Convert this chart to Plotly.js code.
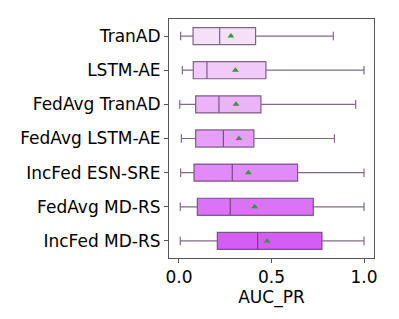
<!DOCTYPE html>
<html>
<head>
<meta charset="utf-8">
<script src="https://cdn.plot.ly/plotly-3.0.1.min.js"></script>
<style>html,body{margin:0;padding:0;background:#fff;}#chart{width:399px;height:319px;}</style>
</head>
<body>
<div id="chart"></div>
<script>
var categories = ["TranAD", "LSTM-AE", "FedAvg TranAD", "FedAvg LSTM-AE", "IncFed ESN-SRE", "FedAvg MD-RS", "IncFed MD-RS"];
var lowerWhisker = [0.009, 0.018, 0.004, 0.013, 0.009, 0.007, 0.007];
var q1Values     = [0.076, 0.077, 0.090, 0.090, 0.081, 0.099, 0.207];
var medianValues = [0.220, 0.151, 0.216, 0.240, 0.288, 0.277, 0.425];
var q3Values     = [0.414, 0.470, 0.443, 0.405, 0.641, 0.726, 0.773];
var upperWhisker = [0.834, 1.000, 0.955, 0.840, 1.000, 1.000, 1.000];
var meanValues   = [0.281, 0.305, 0.308, 0.324, 0.375, 0.409, 0.476];
var fillColors = ["#f5dff9", "#f0cbf9", "#ebb4f9", "#e6a0f9", "#e08bf8", "#db72f7", "#d65cf6"];
var xTicks = [0, 0.5, 1.0];
var xTickLabels = ["0.0", "0.5", "1.0"];

var traces = [];
for (var i = 0; i < categories.length; i++) {
  traces.push({
    type: "box",
    orientation: "h",
    y: [categories[i]],
    q1: [q1Values[i]],
    median: [medianValues[i]],
    q3: [q3Values[i]],
    lowerfence: [lowerWhisker[i]],
    upperfence: [upperWhisker[i]],
    width: 0.5,
    whiskerwidth: 0.5,
    fillcolor: fillColors[i],
    line: {color: "rgba(85,55,95,0.75)", width: 1.2},
    boxpoints: false,
    hoverinfo: "skip",
    showlegend: false
  });
}
traces.push({
  type: "scatter",
  mode: "markers",
  x: meanValues,
  y: categories,
  marker: {symbol: "triangle-up", size: 6, color: "#2ca02c"},
  showlegend: false,
  hoverinfo: "skip"
});

var layout = {
  width: 399, height: 319,
  margin: {l: 169, r: 25, t: 19, b: 61},
  paper_bgcolor: "#fff", plot_bgcolor: "#fff",
  font: {family: "DejaVu Sans", size: 17, color: "#000"},
  showlegend: false,
  xaxis: {
    range: [-0.054, 1.054],
    tickvals: xTicks, ticktext: xTickLabels,
    showgrid: false, zeroline: false,
    showline: true, mirror: true, linecolor: "#555", linewidth: 1,
    ticks: "outside", ticklen: 4, tickcolor: "#555",
    tickfont: {family: "DejaVu Sans", size: 17, color: "#000"},
    title: {text: "AUC_PR", font: {family: "DejaVu Sans", size: 17, color: "#000"}, standoff: 0}
  },
  yaxis: {
    type: "category",
    categoryorder: "array", categoryarray: categories,
    range: [6.5, -0.5],
    showgrid: false, zeroline: false,
    showline: true, mirror: true, linecolor: "#555", linewidth: 1,
    ticks: "outside", ticklen: 4, tickcolor: "#555",
    tickfont: {family: "DejaVu Sans", size: 17, color: "#000"}
  }
};

Plotly.newPlot("chart", traces, layout, {staticPlot: true, displayModeBar: false});
</script>
</body>
</html>
